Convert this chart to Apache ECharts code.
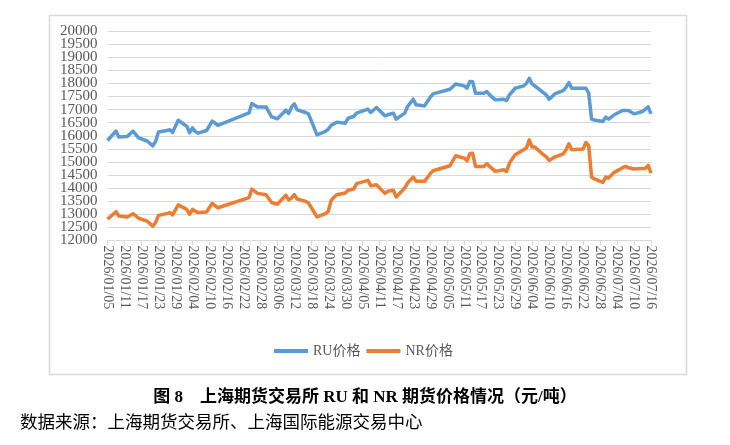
<!DOCTYPE html>
<html>
<head>
<meta charset="utf-8">
<script src="https://cdn.jsdelivr.net/npm/echarts@6/dist/echarts.min.js"></script>
<style>
html,body{margin:0;padding:0;background:#fff;}
#c{width:730px;height:445px;}
</style>
</head>
<body>
<div id="c"></div>
<script>
var startDate = '2026/01/05';
var endDate = '2026/07/16';
var tickStepDays = 6;
var seriesNames = ['RU价格', 'NR价格'];
var dates = [
'2026/01/05','2026/01/08','2026/01/09','2026/01/12','2026/01/14','2026/01/16','2026/01/19','2026/01/21','2026/01/22','2026/01/23',
'2026/01/26','2026/01/27','2026/01/28','2026/01/30','2026/02/02','2026/02/03','2026/02/04','2026/02/05','2026/02/06','2026/02/09',
'2026/02/11','2026/02/13','2026/02/24','2026/02/25','2026/02/27','2026/03/02','2026/03/04','2026/03/06','2026/03/09','2026/03/10',
'2026/03/11','2026/03/12','2026/03/13','2026/03/16','2026/03/17','2026/03/20','2026/03/23','2026/03/24','2026/03/25','2026/03/26',
'2026/03/27','2026/03/30','2026/03/31','2026/04/02','2026/04/03','2026/04/07','2026/04/08','2026/04/10','2026/04/13','2026/04/14',
'2026/04/16','2026/04/17','2026/04/20','2026/04/21','2026/04/23','2026/04/24','2026/04/27','2026/04/29','2026/04/30','2026/05/06',
'2026/05/08','2026/05/11','2026/05/12','2026/05/13','2026/05/14','2026/05/15','2026/05/18','2026/05/19','2026/05/20','2026/05/22',
'2026/05/25','2026/05/26','2026/05/27','2026/05/29','2026/06/01','2026/06/02','2026/06/03','2026/06/04','2026/06/05','2026/06/08',
'2026/06/09','2026/06/10','2026/06/12','2026/06/15','2026/06/16','2026/06/17','2026/06/18','2026/06/22','2026/06/23','2026/06/24',
'2026/06/25','2026/06/26','2026/06/29','2026/06/30','2026/07/01','2026/07/03','2026/07/06','2026/07/07','2026/07/08','2026/07/10',
'2026/07/13','2026/07/14','2026/07/15','2026/07/16'
];
var ruPrice = [
15820,16180,15950,15975,16180,15920,15800,15615,15780,16140,
16200,16230,16130,16590,16360,16115,16300,16160,16100,16200,
16560,16400,16870,17230,17100,17100,16720,16650,16975,16850,
17090,17217,16990,16888,16837,16036,16163,16250,16400,16455,
16520,16480,16670,16735,16862,17015,16888,17080,16760,16800,
16862,16634,16862,17116,17395,17180,17140,17470,17598,17776,
17979,17903,17814,18068,18060,17624,17624,17687,17560,17370,
17395,17344,17560,17814,17903,18005,18195,17979,17900,17649,
17560,17395,17598,17725,17852,18030,17814,17814,17814,17624,
16634,16600,16545,16710,16634,16800,16964,16964,16964,16837,
16926,17015,17100,16837
];
var nrPrice = [
12810,13100,12935,12900,13025,12850,12740,12550,12680,12960,
13025,13065,12975,13360,13190,13000,13190,13120,13065,13090,
13420,13250,13640,13960,13800,13745,13450,13385,13730,13550,
13623,13750,13585,13496,13433,12900,13026,13115,13534,13650,
13750,13814,13916,13966,14170,14296,14093,14130,13800,13877,
13916,13662,14004,14195,14424,14258,14258,14551,14665,14855,
15236,15147,15045,15312,15330,14830,14830,14932,14830,14640,
14703,14640,14957,15274,15465,15528,15845,15566,15566,15274,
15200,15058,15185,15312,15465,15693,15465,15490,15744,15617,
14424,14350,14220,14424,14386,14602,14780,14830,14780,14729,
14754,14754,14870,14576
];
var yMin = 12000, yMax = 20000, yStep = 500;
var yTickLabels = ['12000','12500','13000','13500','14000','14500','15000','15500','16000',
                   '16500','17000','17500','18000','18500','19000','19500','20000'];
var titleText = '图 8    上海期货交易所 RU 和 NR 期货价格情况（元/吨）';
var sourceText = '数据来源：上海期货交易所、上海国际能源交易中心';

var DAY = 86400000;
function toMs(s){ var p = s.split('/'); return Date.UTC(+p[0], +p[1]-1, +p[2]); }
var t0 = toMs(startDate);
function dayIdx(s){ return Math.round((toMs(s) - t0) / DAY); }
function pad(n){ return (n < 10 ? '0' : '') + n; }
function fmt(idx){ var d = new Date(t0 + idx * DAY); return d.getUTCFullYear() + '/' + pad(d.getUTCMonth()+1) + '/' + pad(d.getUTCDate()); }

var ruData = dates.map(function(d, i){ return [dayIdx(d), ruPrice[i]]; });
var nrData = dates.map(function(d, i){ return [dayIdx(d), nrPrice[i]]; });

var serif = '"Liberation Serif","Noto Sans CJK SC",serif';
var chart = echarts.init(document.getElementById('c'), null, {renderer: 'canvas'});
chart.setOption({
  backgroundColor: '#ffffff',
  animation: false,
  grid: {left: 107.5, right: 79, top: 31, bottom: 204.5, containLabel: false},
  legend: {
    data: seriesNames,
    left: 269, top: 339,
    icon: 'rect',
    itemWidth: 34, itemHeight: 4, itemGap: 6,
    textStyle: {fontFamily: serif, fontSize: 14, color: '#595959'}
  },
  xAxis: {
    type: 'value',
    min: 0, max: dayIdx(endDate), interval: tickStepDays,
    axisLine: {show: true, lineStyle: {color: '#d9d9d9', width: 1}},
    axisTick: {show: true, length: 5, lineStyle: {color: '#d9d9d9'}},
    splitLine: {show: false},
    axisLabel: {
      rotate: -90, margin: 5,
      fontFamily: serif, fontSize: 14, color: '#595959',
      formatter: function(v){ return fmt(v); },
      showMinLabel: true, showMaxLabel: true
    }
  },
  yAxis: [
    {
      type: 'value',
      min: yMin, max: yMax, interval: yStep,
      axisLine: {show: false}, axisTick: {show: false},
      splitLine: {lineStyle: {color: '#d9d9d9', width: 1}},
      axisLabel: {show: false}
    },
    {
      type: 'category', position: 'left', data: yTickLabels, boundaryGap: false,
      axisLine: {show: false}, axisTick: {show: false}, splitLine: {show: false},
      axisLabel: {interval: 0, fontFamily: serif, fontSize: 15, color: '#595959', margin: 10}
    }
  ],
  series: [
    {name: seriesNames[0], type: 'line', yAxisIndex: 0, data: ruData, symbol: 'none', color: '#5B9BD5',
     lineStyle: {width: 3.5, color: '#5B9BD5', join: 'round'}},
    {name: seriesNames[1], type: 'line', yAxisIndex: 0, data: nrData, symbol: 'none', color: '#ED7D31',
     lineStyle: {width: 3.5, color: '#ED7D31', join: 'round'}}
  ],
  graphic: [
    {type: 'rect', left: 47, top: 13, silent: true, z: -1,
     shape: {width: 637, height: 359},
     style: {fill: 'none', stroke: '#d9d9d9', lineWidth: 1.5}},
    {type: 'text', left: 'center', top: 389,
     style: {text: titleText, font: 'bold 17px "Liberation Serif","Noto Sans CJK SC",serif', fill: '#000'}},
    {type: 'text', left: 20, top: 415,
     style: {text: sourceText, font: '17.5px "Liberation Serif","Noto Sans CJK SC",serif', fill: '#000'}}
  ]
});
</script>
</body>
</html>
